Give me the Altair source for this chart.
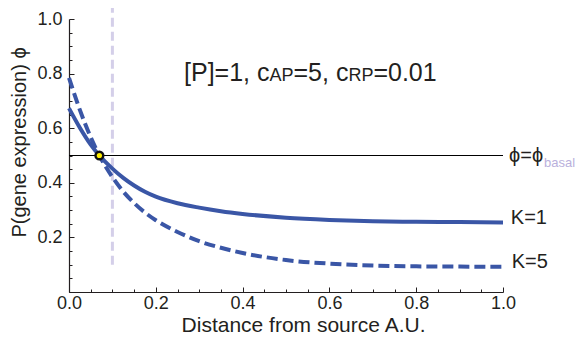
import altair as alt
import pandas as pd

# ---- data ----
x_vals = [0.0, 0.025, 0.05, 0.07, 0.1, 0.125, 0.15, 0.175, 0.2, 0.25, 0.3, 0.35, 0.4,
          0.5, 0.6, 0.7, 0.8, 0.9, 1.0]
k1_vals = [0.673, 0.602, 0.540, 0.50, 0.452, 0.418, 0.390, 0.367, 0.349, 0.325, 0.309,
           0.296, 0.286, 0.272, 0.264, 0.259, 0.257, 0.256, 0.255]
k5_vals = [0.784, 0.667, 0.567, 0.50, 0.421, 0.368, 0.326, 0.291, 0.263, 0.220, 0.186,
           0.162, 0.143, 0.117, 0.104, 0.097, 0.094, 0.093, 0.092]

major_ticks = [0.0, 0.2, 0.4, 0.6, 0.8, 1.0]
minor_ticks = [0.0, 0.05, 0.1, 0.15, 0.2, 0.25, 0.3, 0.35, 0.4, 0.45, 0.5,
               0.55, 0.6, 0.65, 0.7, 0.75, 0.8, 0.85, 0.9, 0.95, 1.0]

basal_level = 0.5
basal_x = [0.0, 1.0]
cross_x = [0.07]
cross_y = [0.5]
source_x = [0.1]
source_y = [0.1, 1.06]

BLUE = "#3a56a6"
LAV = "#d4cfe9"
INK = "#231f20"
FONT = "Liberation Sans"

W, H = 434, 273

df1 = pd.DataFrame({"x": x_vals, "phi": k1_vals})
df5 = pd.DataFrame({"x": x_vals, "phi": k5_vals})
dfh = pd.DataFrame({"x0": [basal_x[0]], "x1": [basal_x[1]], "y": [basal_level]})
dfv = pd.DataFrame({"x": source_x, "y0": [source_y[0]], "y1": [source_y[1]]})
dfp = pd.DataFrame({"x": cross_x, "y": cross_y})

xs = alt.Scale(domain=[0, 1], nice=False, zero=False)
ys = alt.Scale(domain=[0, 1], nice=False, zero=False)

major_test = "abs(datum.value*5 - round(datum.value*5)) < 0.001"

ax_bottom = alt.Axis(orient="bottom", values=major_ticks, ticks=False, tickSize=0,
                     labelExpr=f"{major_test} ? format(datum.value, '.1f') : ''",
                     labelFontSize=18, labelColor=INK, labelFont=FONT, labelPadding=2,
                     labelFlush=False, labelOverlap=False,
                     domain=True, domainColor=INK, domainWidth=1.2, grid=False,
                     title="Distance from source A.U.", titleFontSize=21,
                     titleFontWeight="normal", titleColor=INK, titleFont=FONT,
                     titleX=234, titleY=39, titleBaseline="alphabetic", titleAlign="center")
ax_left = alt.Axis(orient="left", values=major_ticks, ticks=False, tickSize=0,
                   labelExpr=f"datum.value > 0.001 && {major_test} ? format(datum.value, '.1f') : ''",
                   labelFontSize=18, labelColor=INK, labelFont=FONT, labelPadding=7,
                   labelFlush=False, labelOverlap=False,
                   domain=True, domainColor=INK, domainWidth=1.2, grid=False,
                   title="P(gene expression) \u03d5", titleFontSize=20,
                   titleFontWeight="normal", titleColor=INK, titleFont=FONT,
                   titleAngle=270, titleX=-44, titleY=123,
                   titleBaseline="alphabetic", titleAlign="center")
tick_size = {"condition": {"test": major_test, "value": 5}, "value": 3}
ax_top = alt.Axis(orient="top", offset=-H, values=minor_ticks, labels=False,
                  ticks=True, tickSize=tick_size, tickColor=INK, tickWidth=1,
                  domain=False, grid=False, title="")
ax_right = alt.Axis(orient="right", offset=-W, values=minor_ticks, labels=False,
                    ticks=True, tickSize=tick_size, tickColor=INK, tickWidth=1,
                    domain=False, grid=False, title="")

solid = alt.Chart(df1).mark_line(color=BLUE, strokeWidth=4, interpolate="monotone").encode(
    x=alt.X("x:Q", scale=xs, axis=ax_bottom),
    y=alt.Y("phi:Q", scale=ys, axis=ax_left),
)
dashed = alt.Chart(df5).mark_line(color=BLUE, strokeWidth=4, strokeDash=[11, 5],
                                  interpolate="monotone").encode(
    x=alt.X("x:Q", scale=xs, axis=ax_top),
    y=alt.Y("phi:Q", scale=ys, axis=ax_right),
)
vline = alt.Chart(dfv).mark_rule(color=LAV, strokeWidth=3, strokeDash=[9, 5]).encode(
    x=alt.X("x:Q", scale=xs, axis=None),
    y=alt.Y("y0:Q", scale=ys, axis=None),
    y2="y1:Q",
)
hline = alt.Chart(dfh).mark_rule(color="black", strokeWidth=1).encode(
    x=alt.X("x0:Q", scale=xs, axis=None),
    x2="x1:Q",
    y=alt.Y("y:Q", scale=ys, axis=None),
)
point = alt.Chart(dfp).mark_circle(size=60, color="#ffee00", stroke="#111111",
                                   strokeWidth=2.5, opacity=1).encode(
    x=alt.X("x:Q", scale=xs, axis=None),
    y=alt.Y("y:Q", scale=ys, axis=None),
)


def label(text, x, y, size, dx=0, color=INK, baseline="middle"):
    d = pd.DataFrame({"x": [x], "y": [y], "t": [text]})
    return alt.Chart(d).mark_text(align="left", baseline=baseline, fontSize=size,
                                  font=FONT, color=color, dx=dx).encode(
        x=alt.X("x:Q", scale=xs, axis=None),
        y=alt.Y("y:Q", scale=ys, axis=None),
        text="t:N",
    )


tx, ty = 0.265, 0.773
title_parts = [
    label("[P]=1, c", tx, ty, 25, 0, baseline="alphabetic"),
    label("AP", tx, ty, 18, 85.5, baseline="alphabetic"),
    label("=5, c", tx, ty, 25, 109.5, baseline="alphabetic"),
    label("RP", tx, ty, 18, 164.4, baseline="alphabetic"),
    label("=0.01", tx, ty, 25, 189.4, baseline="alphabetic"),
]

texts = [
    label("\u03d5=\u03d5", 1.014, 0.5, 20),
    label("basal", 1.014, 0.472, 13, 35, color="#b9b0dc"),
    label("K=1", 1.018, 0.271, 20),
    label("K=5", 1.02, 0.11, 20),
]

chart = alt.layer(vline, hline, solid, dashed, point, *title_parts, *texts).resolve_axis(
    x="independent", y="independent"
).properties(
    width=W, height=H,
    autosize=alt.AutoSizeParams(type="none"),
    padding={"left": 61, "top": 11, "right": 75, "bottom": 42},
).configure_view(stroke=None)

chart.save("out.html", embed_options={"renderer": "svg", "actions": False})
